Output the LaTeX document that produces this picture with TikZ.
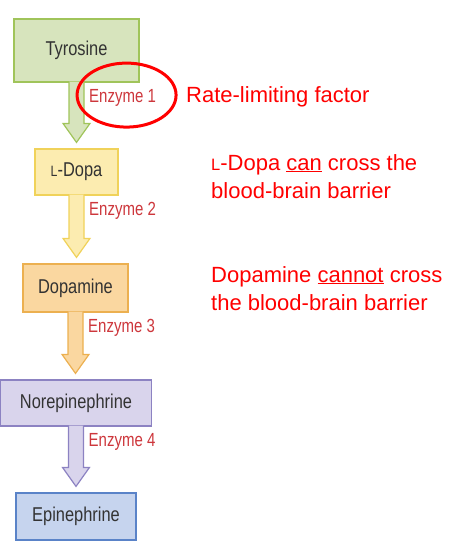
\documentclass[tikz,border=0pt]{standalone}
\usepackage{fontspec}
\setmainfont{Liberation Sans}
\newfontfamily\boxfont[FakeStretch=0.82]{Liberation Sans}
\newfontfamily\enzfont[FakeStretch=0.79]{Liberation Sans}
\usetikzlibrary{calc}
\definecolor{fillgreen}{RGB}{215,228,189}
\definecolor{linegreen}{RGB}{160,196,90}
\definecolor{fillyellow}{RGB}{252,236,176}
\definecolor{lineyellow}{RGB}{240,210,90}
\definecolor{fillorange}{RGB}{250,215,160}
\definecolor{lineorange}{RGB}{236,176,80}
\definecolor{fillpurple}{RGB}{217,212,236}
\definecolor{linepurple}{RGB}{140,130,194}
\definecolor{fillblue}{RGB}{198,212,238}
\definecolor{lineblue}{RGB}{90,131,200}
\definecolor{enzred}{RGB}{205,55,60}
\newcommand{\smallL}[1]{{\fontsize{#1}{#1}\selectfont L}}

\begin{document}
\begin{tikzpicture}[x=1pt,y=-1pt,
    mol/.style={draw=line#1,fill=fill#1,line width=1.2pt,inner sep=0pt,
      font=\boxfont\fontsize{20}{22}\selectfont,text=black!80},
    enz/.style={anchor=west,inner sep=0pt,text=enzred,font=\enzfont\fontsize{19}{20}\selectfont},
    note/.style={anchor=base west,inner sep=0pt,align=left,text=red,font=\fontsize{22}{28}\selectfont}]
  \useasboundingbox (0,0) rectangle (456,557);
  \node[mol=green,minimum width=125pt,minimum height=63pt] (tyr) at (76.5,50.5) {Tyrosine};
  \node[mol=yellow,minimum width=83pt,minimum height=46pt] (ldopa) at (76.5,172) {\smallL{15}-Dopa};
  \node[mol=orange,minimum width=105pt,minimum height=48pt] (dopa) at (75.5,288) {Dopamine};
  \node[mol=purple,minimum width=151pt,minimum height=46pt] (nor) at (76,403) {Norepinephrine};
  \node[mol=blue,minimum width=120pt,minimum height=47pt] (epi) at (76,516.5) {Epinephrine};
  \foreach \a/\b/\c/\n in {tyr/ldopa/green/1, ldopa/dopa/yellow/2, dopa/nor/orange/3, nor/epi/purple/4}{
    \draw[draw=line\c,fill=fill\c,line width=1.2pt]
      ($(\a.south)+(-7.5,-1)$) -- ($(\a.south |- \b.north)+(-7.5,-25)$) -- ++(-6,0)
      -- ($(\a.south |- \b.north)+(0,-6)$) -- ($(\a.south |- \b.north)+(13.5,-25)$)
      -- ++(-6,0) -- ($(\a.south)+(7.5,-1)$);
    \node[enz] (enz\n) at ($(\a.south)+(12.5,15.5)$) {Enzyme \n};
  }
  \draw[red,line width=3pt] ($(enz1.center)+(4,-3)$) ellipse [x radius=49.5pt,y radius=32pt];
  \node[note] (rate) at (186,102) {Rate-limiting factor};
  \node[note] (cross) at (211,198) {\smallL{16.5}-Dopa \underline{can} cross the\\blood-brain barrier};
  \node[note] (nocross) at (211,310) {Dopamine \underline{cannot} cross\\the blood-brain barrier};
\end{tikzpicture}
\end{document}
